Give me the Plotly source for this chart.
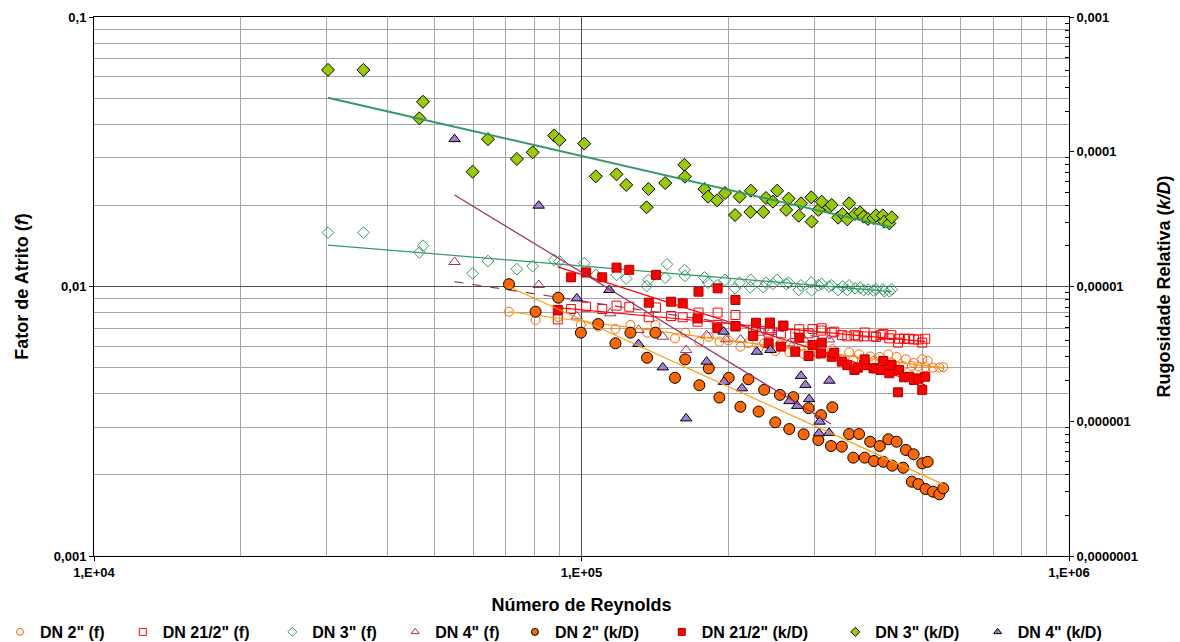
import plotly.graph_objects as go

# ---------------- data ----------------
# DN 2"
dn2_x = [7.10e4, 8.05e4, 8.96e4, 9.97e4, 1.082e5, 1.174e5, 1.26e5, 1.363e5, 1.418e5, 1.555e5,
         1.632e5, 1.745e5, 1.824e5, 1.918e5, 2.004e5, 2.118e5, 2.20e5, 2.308e5, 2.37e5, 2.498e5,
         2.553e5, 2.668e5, 2.72e5, 2.855e5, 2.923e5, 3.06e5, 3.10e5, 3.25e5, 3.27e5, 3.42e5,
         3.54e5, 3.61e5, 3.71e5, 3.81e5, 3.91e5, 3.98e5, 4.09e5, 4.16e5, 4.26e5, 4.34e5,
         4.43e5, 4.57e5, 4.63e5, 4.76e5, 4.80e5, 4.91e5, 5.00e5, 5.08e5, 5.13e5, 5.26e5,
         5.42e5, 5.52e5]
dn2_f = [0.00806, 0.00751, 0.0077, 0.0072, 0.0071, 0.00696, 0.0072, 0.00674, 0.0072, 0.00642,
         0.00674, 0.00624, 0.0065, 0.00624, 0.0063, 0.00598, 0.00617, 0.0059, 0.00617, 0.00576,
         0.0061, 0.0057, 0.006, 0.00562, 0.0059, 0.0056, 0.00585, 0.0056, 0.00585, 0.00537,
         0.0057, 0.00535, 0.0056, 0.0053, 0.0055, 0.0053, 0.00548, 0.0053, 0.0056, 0.00519,
         0.00548, 0.00507, 0.00537, 0.00507, 0.0052, 0.00505, 0.00537, 0.00502, 0.0053, 0.005,
         0.005, 0.00502]
dn2_kd = [1.04e-5, 6.5e-6, 8.26e-6, 4.54e-6, 5.27e-6, 3.79e-6, 4.54e-6, 2.96e-6, 4.54e-6, 2.1e-6,
          2.88e-6, 1.85e-6, 2.47e-6, 1.5e-6, 2.1e-6, 1.28e-6, 2.05e-6, 1.18e-6, 1.71e-6, 9.82e-7,
          1.57e-6, 8.76e-7, 1.51e-6, 8.0e-7, 1.25e-6, 7.26e-7, 1.11e-6, 6.55e-7, 1.27e-6, 6.48e-7,
          8.04e-7, 5.37e-7, 8.04e-7, 5.37e-7, 7.05e-7, 5.07e-7, 6.55e-7, 5.0e-7, 7.35e-7, 4.68e-7,
          7.05e-7, 4.52e-7, 6.12e-7, 3.56e-7, 5.69e-7, 3.42e-7, 4.87e-7, 3.14e-7, 5.0e-7, 3.0e-7,
          2.87e-7, 3.18e-7]

# DN 2 1/2"
dn25_x = [8.94e4, 9.52e4, 1.022e5, 1.103e5, 1.18e5, 1.253e5, 1.374e5, 1.422e5, 1.527e5, 1.613e5,
          1.73e5, 1.738e5, 1.90e5, 1.902e5, 2.069e5, 2.07e5, 2.25e5, 2.28e5, 2.42e5, 2.435e5,
          2.565e5, 2.594e5, 2.745e5, 2.797e5, 2.923e5, 2.978e5, 3.10e5, 3.11e5, 3.26e5, 3.30e5,
          3.42e5, 3.51e5, 3.63e5, 3.69e5, 3.80e5, 3.81e5, 3.97e5, 4.02e5, 4.11e5, 4.16e5,
          4.28e5, 4.32e5, 4.46e5, 4.48e5, 4.59e5, 4.70e5, 4.81e5, 4.91e5, 5.00e5, 5.07e5]
dn25_f = [0.00755, 0.00825, 0.00841, 0.00825, 0.00849, 0.00841, 0.00769, 0.00836, 0.00777, 0.00769,
          0.0074, 0.008, 0.0072, 0.008, 0.00784, 0.0071, 0.0069, 0.0071, 0.00674, 0.007,
          0.0067, 0.00715, 0.00667, 0.00694, 0.0067, 0.00695, 0.00686, 0.007, 0.00675, 0.0068,
          0.0066, 0.00653, 0.0066, 0.00653, 0.00653, 0.00675, 0.00653, 0.0065, 0.0066, 0.00667,
          0.00642, 0.0066, 0.00619, 0.0064, 0.0064, 0.0064, 0.00636, 0.00636, 0.00619, 0.0064]
dn25_kd = [6.7e-6, 1.17e-5, 1.27e-5, 1.17e-5, 1.38e-5, 1.33e-5, 7.58e-6, 1.22e-5, 7.71e-6, 7.5e-6,
           5.8e-6, 9.15e-6, 4.9e-6, 9.69e-6, 7.94e-6, 5.09e-6, 4.29e-6, 5.38e-6, 3.79e-6, 5.4e-6,
           3.58e-6, 5.12e-6, 3.28e-6, 4.17e-6, 3.05e-6, 3.68e-6, 3.19e-6, 3.83e-6, 3.01e-6, 3.23e-6,
           2.77e-6, 2.61e-6, 2.4e-6, 2.5e-6, 2.61e-6, 2.88e-6, 2.47e-6, 2.47e-6, 2.4e-6, 2.8e-6,
           2.27e-6, 2.61e-6, 1.64e-6, 2.4e-6, 2.12e-6, 2.14e-6, 2.02e-6, 2.08e-6, 1.71e-6, 2.14e-6]

# DN 3"
dn3_kd_x = [3.02e4, 3.57e4, 4.73e4, 4.65e4, 5.98e4, 6.43e4, 7.37e4, 7.94e4, 8.79e4, 9.01e4,
            1.013e5, 1.07e5, 1.18e5, 1.235e5, 1.372e5, 1.36e5, 1.485e5, 1.626e5, 1.63e5, 1.787e5,
            1.818e5, 1.897e5, 1.97e5, 2.065e5, 2.11e5, 2.22e5, 2.225e5, 2.36e5, 2.39e5, 2.47e5,
            2.52e5, 2.63e5, 2.66e5, 2.79e5, 2.82e5, 2.96e5, 2.965e5, 3.06e5, 3.11e5, 3.22e5,
            3.26e5, 3.36e5, 3.43e5, 3.51e5, 3.54e5, 3.64e5, 3.73e5, 3.79e5, 3.87e5, 3.97e5,
            4.02e5, 4.15e5, 4.18e5, 4.28e5, 4.33e5]
dn3_kd = [4.05e-4, 4.05e-4, 2.35e-4, 1.77e-4, 7.11e-5, 1.24e-4, 8.84e-5, 9.9e-5, 1.32e-4, 1.22e-4,
          1.15e-4, 6.57e-5, 6.8e-5, 5.67e-5, 5.29e-5, 3.87e-5, 5.86e-5, 8.0e-5, 6.53e-5, 5.29e-5,
          4.64e-5, 4.36e-5, 4.94e-5, 3.39e-5, 4.64e-5, 3.57e-5, 5.14e-5, 3.57e-5, 4.54e-5, 4.26e-5,
          5.14e-5, 3.70e-5, 4.49e-5, 3.35e-5, 4.14e-5, 4.59e-5, 3.03e-5, 3.70e-5, 4.26e-5, 3.87e-5,
          4.03e-5, 3.24e-5, 3.45e-5, 3.15e-5, 4.14e-5, 3.45e-5, 3.55e-5, 3.30e-5, 3.17e-5, 3.22e-5,
          3.37e-5, 3.37e-5, 3.03e-5, 2.94e-5, 3.26e-5]
dn3_f_x = [3.02e4, 3.57e4, 4.73e4, 4.65e4, 5.98e4, 6.43e4, 7.37e4, 7.94e4, 8.79e4, 9.01e4,
           1.013e5, 1.07e5, 1.18e5, 1.235e5, 1.372e5, 1.36e5, 1.498e5, 1.485e5, 1.626e5, 1.63e5,
           1.787e5, 1.818e5, 1.897e5, 1.97e5, 2.065e5, 2.11e5, 2.22e5, 2.225e5, 2.36e5, 2.39e5,
           2.47e5, 2.52e5, 2.63e5, 2.66e5, 2.79e5, 2.82e5, 2.96e5, 2.965e5, 3.06e5, 3.11e5,
           3.22e5, 3.26e5, 3.36e5, 3.43e5, 3.51e5, 3.54e5, 3.64e5, 3.73e5, 3.79e5, 3.87e5,
           3.97e5, 4.02e5, 4.15e5, 4.18e5, 4.28e5, 4.33e5]
dn3_f = [0.01585, 0.01585, 0.01417, 0.01339, 0.01119, 0.01243, 0.0116, 0.01191, 0.01254, 0.0124,
         0.0122, 0.01104, 0.01104, 0.0107, 0.01058, 0.01004, 0.01209, 0.01078, 0.01151, 0.01094,
         0.0108, 0.01033, 0.0101, 0.01058, 0.00985, 0.01033, 0.00993, 0.01058, 0.00993, 0.01033,
         0.01022, 0.01058, 0.01022, 0.01033, 0.0097, 0.0101, 0.01035, 0.00967, 0.0101, 0.01022,
         0.01, 0.0101, 0.0097, 0.01, 0.0097, 0.0101, 0.00985, 0.0099, 0.0097, 0.00975,
         0.00967, 0.00975, 0.00975, 0.0096, 0.0096, 0.00975]

# DN 4"
dn4_kd_x = [5.49e4, 8.17e4, 9.78e4, 1.141e5, 1.309e5, 1.468e5, 1.639e5, 1.806e5, 1.957e5, 1.96e5,
            2.134e5, 2.29e5, 2.44e5, 2.67e5, 2.77e5, 2.82e5, 2.88e5, 2.93e5, 3.08e5, 3.07e5,
            3.22e5, 3.225e5]
dn4_kd = [1.24e-4, 3.98e-5, 8.17e-6, 9.42e-6, 3.74e-6, 2.51e-6, 1.05e-6, 2.77e-6, 4.62e-6, 1.96e-6,
          1.755e-6, 3.28e-6, 3.38e-6, 1.41e-6, 1.30e-6, 2.17e-6, 1.86e-6, 1.46e-6, 9.93e-7, 8.14e-7,
          8.2e-7, 2.0e-6]
dn4_f_x = [5.49e4, 8.17e4, 9.78e4, 1.145e5, 1.309e5, 1.468e5, 1.639e5, 1.806e5, 1.98e5, 2.12e5,
           2.305e5, 2.447e5, 2.668e5, 2.86e5, 3.07e5, 3.22e5]
dn4_f = [0.01233, 0.01013, 0.00774, 0.00795, 0.0069, 0.00651, 0.00581, 0.0066, 0.00637, 0.00636,
         0.00674, 0.00679, 0.00615, 0.00636, 0.00565, 0.00636]

# Trend lines (power-law fits, start/end values)
tr_dn2_f_x, tr_dn2_f_y = [7.10e4, 5.52e5], [0.00806, 0.00498]
tr_dn2_kd_x, tr_dn2_kd_y = [7.10e4, 5.52e5], [9.97e-6, 3.4e-7]
tr_dn25_f_x, tr_dn25_f_y = [8.94e4, 5.07e5], [0.00835, 0.00624]
tr_dn25_kd_x, tr_dn25_kd_y = [8.94e4, 5.07e5], [1.4e-5, 1.86e-6]
tr_dn3_f_x, tr_dn3_f_y = [3.02e4, 4.33e5], [0.01425, 0.00957]
tr_dn3_kd_x, tr_dn3_kd_y = [3.02e4, 4.33e5], [2.52e-4, 2.75e-5]
tr_dn4_f_x, tr_dn4_f_y = [5.49e4, 3.25e5], [0.01042, 0.0064]
tr_dn4_kd_x, tr_dn4_kd_y = [5.49e4, 3.25e5], [4.78e-5, 9.54e-7]

x_ticks = [1e4, 1e5, 1e6]
x_ticktext = ["1,E+04", "1,E+05", "1,E+06"]
yl_ticks = [0.001, 0.01, 0.1]
yl_ticktext = ["0,001", "0,01", "0,1"]
yr_ticks = [1e-7, 1e-6, 1e-5, 1e-4, 1e-3]
yr_ticktext = ["0,0000001", "0,000001", "0,00001", "0,0001", "0,001"]

legend_names = ['DN 2" (f)', 'DN 21/2" (f)', 'DN 3" (f)', 'DN 4" (f)',
                'DN 2" (k/D)', 'DN 21/2" (k/D)', 'DN 3" (k/D)', 'DN 4" (k/D)']
# extra trailing (non-breaking) space after each legend entry, to mimic the original spacing
legend_pad = [3, 4, 3, 0, 4, 5, 3, 0]
# the legend row is split in two halves (f entries / k/D entries)
legend_group = ["legend"] * 4 + ["legend2"] * 4

# ---------------- styles ----------------
ORANGE = "#FF6600"
RED = "#FF0000"
GREEN = "#339966"
PURPLE = "#993366"
LIME = "#99CC00"
LAVENDER = "#A380D6"
FONT = "Liberation Sans, Arial, sans-serif"

fig = go.Figure()


def pts(x, y, symbol, color, line_color, size, yaxis):
    fig.add_trace(go.Scatter(
        x=x, y=y, mode="markers", yaxis=yaxis, showlegend=False, hoverinfo="x+y",
        marker=dict(symbol=symbol, size=size, color=color,
                    line=dict(color=line_color, width=1))))


def trend(x, y, color, width, dash, yaxis):
    fig.add_trace(go.Scatter(
        x=x, y=y, mode="lines", yaxis=yaxis, showlegend=False, hoverinfo="skip",
        line=dict(color=color, width=width, dash=dash)))


# friction factor series (left axis)
pts(dn2_x, dn2_f, "circle-open", ORANGE, ORANGE, 9, "y")
pts(dn25_x, dn25_f, "square-open", RED, RED, 9, "y")
pts(dn3_f_x, dn3_f, "diamond-open", GREEN, GREEN, 9, "y")
pts(dn4_f_x, dn4_f, "triangle-up-open", PURPLE, PURPLE, 10, "y")
trend(tr_dn2_f_x, tr_dn2_f_y, "#FF9900", 1.2, "solid", "y")
trend(tr_dn25_f_x, tr_dn25_f_y, RED, 1.2, "solid", "y")
trend(tr_dn3_f_x, tr_dn3_f_y, GREEN, 1.2, "solid", "y")
trend(tr_dn4_f_x, tr_dn4_f_y, PURPLE, 1.2, "dash", "y")

# relative roughness series (right axis)
pts(dn2_x, dn2_kd, "circle", ORANGE, "#000000", 11, "y2")
pts(dn25_x, dn25_kd, "square", RED, "#B00000", 9, "y2")
pts(dn3_kd_x, dn3_kd, "diamond", LIME, "#000000", 10, "y2")
pts(dn4_kd_x, dn4_kd, "triangle-up", LAVENDER, "#000000", 10, "y2")
trend(tr_dn2_kd_x, tr_dn2_kd_y, "#FF9900", 1.2, "solid", "y2")
trend(tr_dn25_kd_x, tr_dn25_kd_y, RED, 1.2, "solid", "y2")
trend(tr_dn3_kd_x, tr_dn3_kd_y, GREEN, 2, "solid", "y2")
trend(tr_dn4_kd_x, tr_dn4_kd_y, PURPLE, 1.2, "solid", "y2")

# legend entries (small markers as in the original)
leg_styles = [("circle-open", ORANGE, ORANGE), ("square-open", RED, RED),
              ("diamond-open", GREEN, GREEN), ("triangle-up-open", PURPLE, PURPLE),
              ("circle", ORANGE, "#000000"), ("square", RED, "#B00000"),
              ("diamond", LIME, "#000000"), ("triangle-up", LAVENDER, "#000000")]
for name, pad, grp, (sym, col, lc) in zip(legend_names, legend_pad, legend_group, leg_styles):
    fig.add_trace(go.Scatter(x=[None], y=[None], mode="markers", name=name + "\u00a0" * pad,
                             legend=grp,
                             marker=dict(symbol=sym, size=7, color=col,
                                         line=dict(color=lc, width=1))))

minor_x = [m * 10 ** e for e in (4, 5) for m in range(2, 10)]
minor_yl = [m * 10 ** e for e in (-3, -2) for m in range(2, 10)]
minor_yr = [m * 10 ** e for e in (-7, -6, -5, -4) for m in range(2, 10)]

tickfont = dict(family=FONT, size=13, color="black", weight="bold")
titlefont = dict(family=FONT, size=18, color="black", weight="bold")
legfont = dict(family=FONT, size=16, color="black", weight="bold")

fig.update_layout(
    width=1180, height=642,
    margin=dict(l=94, r=111, t=17, b=86, autoexpand=False),
    plot_bgcolor="white", paper_bgcolor="white",
    font=dict(family=FONT, color="black"),
    xaxis=dict(
        type="log", range=[4, 6], tickvals=x_ticks, ticktext=x_ticktext,
        showline=True, linecolor="black", linewidth=1, mirror=True,
        ticks="outside", ticklen=4, tickcolor="black",
        showgrid=True, gridcolor="#505050", gridwidth=1, zeroline=False,
        minor=dict(tickvals=minor_x, showgrid=True, gridcolor="#A6A6A6", gridwidth=1, ticks=""),
        tickfont=tickfont,
        title=dict(text="Número de Reynolds", font=titlefont, standoff=22),
    ),
    yaxis=dict(
        type="log", range=[-3, -1], tickvals=yl_ticks, ticktext=yl_ticktext,
        showline=True, linecolor="black", linewidth=1,
        ticks="outside", ticklen=4, tickcolor="black",
        showgrid=True, gridcolor="#505050", gridwidth=1, zeroline=False,
        minor=dict(tickvals=minor_yl, showgrid=True, gridcolor="#A6A6A6", gridwidth=1, ticks=""),
        tickfont=tickfont,
        title=dict(text="Fator de Atrito (<i>f</i>)", font=titlefont, standoff=20),
    ),
    yaxis2=dict(
        type="log", range=[-7, -3], overlaying="y", side="right",
        tickvals=yr_ticks, ticktext=yr_ticktext,
        showline=True, linecolor="black", linewidth=1,
        ticks="outside", ticklen=4, tickcolor="black",
        showgrid=False, zeroline=False,
        minor=dict(tickvals=minor_yr, ticks="inside", ticklen=4, tickcolor="black", showgrid=False),
        tickfont=tickfont,
        title=dict(text="Rugosidade Relativa (<i>k/D</i>)", font=titlefont, standoff=20),
    ),
    legend=dict(
        orientation="h", xref="container", yref="container",
        x=0.0, xanchor="left", y=0.0156, yanchor="middle",
        font=legfont, bgcolor="rgba(0,0,0,0)", itemsizing="trace",
    ),
    legend2=dict(
        orientation="h", xref="container", yref="container",
        x=0.4364, xanchor="left", y=0.0156, yanchor="middle",
        font=legfont, bgcolor="rgba(0,0,0,0)", itemsizing="trace",
    ),
    showlegend=True,
)

fig.write_html("out.html", config={"displayModeBar": False},
               post_script="document.body.style.margin='0';document.body.style.overflow='hidden';")
